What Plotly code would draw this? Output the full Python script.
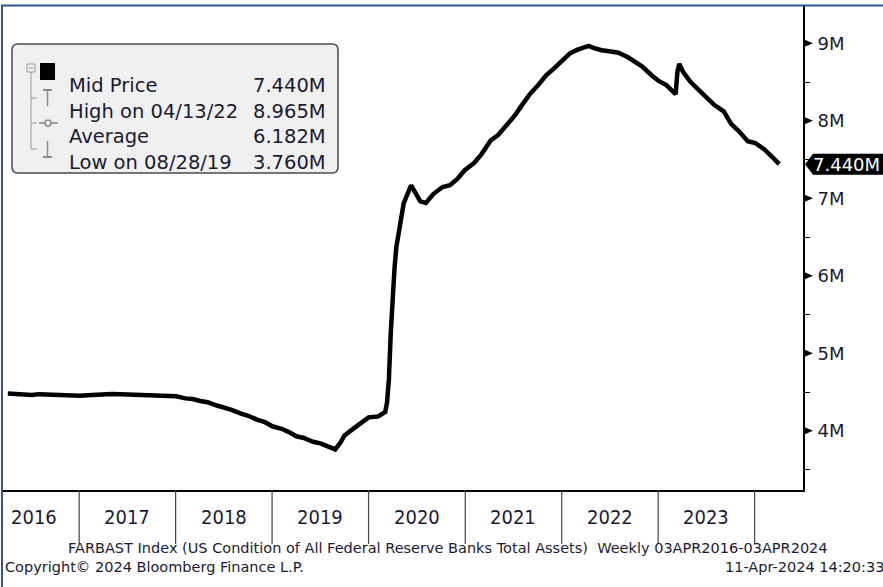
import plotly.graph_objects as go

# Fed total assets (FARBAST), in millions of millions ("M")
dates = [
    "2016-04-06", "2016-05-04", "2016-06-01", "2016-07-06", "2016-08-03", "2016-09-07",
    "2016-10-05", "2016-11-02", "2016-12-07", "2017-01-04", "2017-02-01", "2017-03-01",
    "2017-04-05", "2017-05-03", "2017-06-07", "2017-07-05", "2017-08-02", "2017-09-06",
    "2017-10-04", "2017-11-01", "2017-12-06", "2018-01-03", "2018-02-07", "2018-03-07",
    "2018-04-04", "2018-05-02", "2018-06-06", "2018-07-04", "2018-08-01", "2018-09-05",
    "2018-10-03", "2018-11-07", "2018-12-05", "2019-01-02", "2019-02-06", "2019-03-06",
    "2019-04-03", "2019-05-01", "2019-06-05", "2019-07-03", "2019-08-07", "2019-08-28",
    "2019-09-18", "2019-10-02", "2019-11-06", "2019-12-04", "2020-01-01", "2020-02-05",
    "2020-03-04", "2020-03-11", "2020-03-18", "2020-03-25", "2020-04-01", "2020-04-08",
    "2020-04-15", "2020-04-29", "2020-05-13", "2020-06-10", "2020-06-24", "2020-07-15",
    "2020-08-05", "2020-09-02", "2020-10-07", "2020-11-04", "2020-12-02", "2020-12-30",
    "2021-02-03", "2021-03-03", "2021-04-07", "2021-05-05", "2021-06-02", "2021-07-07",
    "2021-08-04", "2021-09-01", "2021-10-06", "2021-11-03", "2021-12-01", "2022-01-05",
    "2022-02-02", "2022-03-02", "2022-04-13", "2022-05-04", "2022-06-01", "2022-07-06",
    "2022-08-03", "2022-09-07", "2022-10-05", "2022-11-02", "2022-12-07", "2023-01-04",
    "2023-02-01", "2023-03-08", "2023-03-15", "2023-03-22", "2023-04-05", "2023-05-03",
    "2023-06-07", "2023-07-05", "2023-08-02", "2023-09-06", "2023-10-04", "2023-11-01",
    "2023-12-06", "2024-01-03", "2024-02-07", "2024-03-06", "2024-04-03",
]
values = [
    4.481, 4.476, 4.465, 4.463, 4.473, 4.467,
    4.456, 4.454, 4.449, 4.452, 4.459, 4.468,
    4.474, 4.474, 4.470, 4.466, 4.464, 4.454,
    4.461, 4.460, 4.441, 4.446, 4.418, 4.409,
    4.385, 4.369, 4.326, 4.300, 4.270, 4.221,
    4.194, 4.141, 4.111, 4.058, 4.026, 3.983,
    3.929, 3.907, 3.859, 3.838, 3.783, 3.760,
    3.855, 3.940, 4.031, 4.096, 4.173, 4.183,
    4.242, 4.362, 4.666, 5.255, 5.814, 6.083,
    6.367, 6.656, 6.934, 7.168, 7.092, 6.960,
    6.941, 7.055, 7.146, 7.168, 7.250, 7.362,
    7.455, 7.567, 7.746, 7.817, 7.925, 8.065,
    8.205, 8.338, 8.469, 8.586, 8.669, 8.790,
    8.873, 8.917, 8.965, 8.937, 8.911, 8.895,
    8.878, 8.823, 8.756, 8.699, 8.588, 8.511,
    8.460, 8.342, 8.639, 8.734, 8.632, 8.503,
    8.385, 8.298, 8.203, 8.122, 7.960, 7.870,
    7.737, 7.713, 7.631, 7.539, 7.440,
]

year_labels = ["2016", "2017", "2018", "2019", "2020", "2021", "2022", "2023"]
year_label_dates = ["2016-07-15", "2017-07-02", "2018-07-02", "2019-07-02",
                    "2020-07-02", "2021-07-02", "2022-07-02", "2023-07-02"]
year_breaks = ["2017-01-01", "2018-01-01", "2019-01-01", "2020-01-01",
               "2021-01-01", "2022-01-01", "2023-01-01", "2024-01-01"]

y_ticks = [4, 5, 6, 7, 8, 9]
y_ticktext = ["4M", "5M", "6M", "7M", "8M", "9M"]

legend_names = ["Mid Price", "High on 04/13/22", "Average", "Low on 08/28/19"]
legend_values = ["7.440M", "8.965M", "6.182M", "3.760M"]
last_label = "7.440M"

W, H = 883, 587
L, R, T, B = 2, 803, 6, 490


def px(x):
    return (x - L) / (R - L)


def py(y):
    return (B - y) / (B - T)


TXT = "#1b1a33"
NARROW = "DejaVu Sans Condensed, Liberation Sans Narrow, sans-serif"
WIDE = "DejaVu Sans, Verdana, sans-serif"

fig = go.Figure()
fig.add_trace(
    go.Scatter(
        x=dates, y=values, mode="lines",
        line=dict(color="black", width=4.5),
        hoverinfo="skip", showlegend=False,
    )
)

shapes = []
annotations = []

# year separators under the axis
for d in year_breaks:
    shapes.append(dict(type="line", xref="x", yref="paper", x0=d, x1=d,
                       y0=0, y1=py(544), line=dict(color="#444444", width=1.2)))
for d, t in zip(year_label_dates, year_labels):
    annotations.append(dict(x=d, y=py(531), xref="x", yref="paper", text=t,
                            showarrow=False, font=dict(family=NARROW, size=20, color=TXT)))

# triangle ticks on the right axis
for v in y_ticks:
    shapes.append(dict(type="path", xref="paper", yref="y",
                       path=f"M 1,{v - 0.055} L 1,{v + 0.055} L {px(813)},{v} Z",
                       fillcolor="black", line=dict(width=0)))

# last value label
lv = values[-1]
shapes.append(dict(type="path", xref="paper", yref="y",
                   path=(f"M {px(805)},{lv} L {px(813)},{lv + 0.135} L {px(890)},{lv + 0.135} "
                         f"L {px(890)},{lv - 0.135} L {px(813)},{lv - 0.135} Z"),
                   fillcolor="black", line=dict(width=0)))
annotations.append(dict(x=px(811), y=lv, xref="paper", yref="y", text=last_label,
                        xanchor="left", showarrow=False,
                        font=dict(family=WIDE, size=18, color="white")))

# legend box with rounded corners
x0, x1, y0, y1, r = 12, 338, 44, 173, 6
box = (f"M {px(x0 + r)},{py(y0)} L {px(x1 - r)},{py(y0)} Q {px(x1)},{py(y0)} {px(x1)},{py(y0 + r)} "
       f"L {px(x1)},{py(y1 - r)} Q {px(x1)},{py(y1)} {px(x1 - r)},{py(y1)} "
       f"L {px(x0 + r)},{py(y1)} Q {px(x0)},{py(y1)} {px(x0)},{py(y1 - r)} "
       f"L {px(x0)},{py(y0 + r)} Q {px(x0)},{py(y0)} {px(x0 + r)},{py(y0)} Z")
shapes.append(dict(type="path", xref="paper", yref="paper", path=box,
                   fillcolor="#f0f0f0", line=dict(color="#4a4a4a", width=1.5)))
rows = [72, 98, 123, 149]
# tree lines
shapes.append(dict(type="rect", xref="paper", yref="paper",
                   x0=px(27), x1=px(35), y0=py(64), y1=py(72),
                   fillcolor="#f0f0f0", line=dict(color="#9a9a9a", width=1)))
shapes.append(dict(type="line", xref="paper", yref="paper",
                   x0=px(29), x1=px(33), y0=py(68), y1=py(68),
                   line=dict(color="#9a9a9a", width=1)))
shapes.append(dict(type="line", xref="paper", yref="paper",
                   x0=px(31), x1=px(31), y0=py(72), y1=py(rows[3]),
                   line=dict(color="#9a9a9a", width=1)))
for ry in rows[1:]:
    shapes.append(dict(type="line", xref="paper", yref="paper",
                       x0=px(31), x1=px(37), y0=py(ry), y1=py(ry),
                       line=dict(color="#9a9a9a", width=1)))
# black square for mid price
shapes.append(dict(type="rect", xref="paper", yref="paper",
                   x0=px(40), x1=px(55), y0=py(63), y1=py(80),
                   fillcolor="black", line=dict(width=0)))
# high marker (T)
shapes.append(dict(type="line", xref="paper", yref="paper", x0=px(43), x1=px(52),
                   y0=py(90), y1=py(90), line=dict(color="#8a8a8a", width=2)))
shapes.append(dict(type="line", xref="paper", yref="paper", x0=px(47.5), x1=px(47.5),
                   y0=py(90), y1=py(106), line=dict(color="#8a8a8a", width=1.5)))
# average marker
shapes.append(dict(type="line", xref="paper", yref="paper", x0=px(39), x1=px(58),
                   y0=py(123), y1=py(123), line=dict(color="#8a8a8a", width=1.5)))
shapes.append(dict(type="circle", xref="paper", yref="paper", x0=px(45), x1=px(51),
                   y0=py(120), y1=py(126), fillcolor="#f0f0f0",
                   line=dict(color="#8a8a8a", width=1.5)))
# low marker (inverted T)
shapes.append(dict(type="line", xref="paper", yref="paper", x0=px(47.5), x1=px(47.5),
                   y0=py(141), y1=py(157), line=dict(color="#8a8a8a", width=1.5)))
shapes.append(dict(type="line", xref="paper", yref="paper", x0=px(43), x1=px(52),
                   y0=py(157), y1=py(157), line=dict(color="#8a8a8a", width=2)))

for ry, name, val in zip(rows, legend_names, legend_values):
    annotations.append(dict(x=px(67), y=py(ry), xref="paper", yref="paper", text=name,
                            xanchor="left", showarrow=False,
                            font=dict(family=WIDE, size=19.5, color=TXT)))
    annotations.append(dict(x=px(328), y=py(ry), xref="paper", yref="paper", text=val,
                            xanchor="right", showarrow=False,
                            font=dict(family=WIDE, size=19.5, color=TXT)))

# frame lines (blue window border)
shapes.append(dict(type="line", xref="paper", yref="paper", x0=px(2), x1=px(2),
                   y0=py(6), y1=py(600), line=dict(color="#2f5597", width=2)))
shapes.append(dict(type="line", xref="paper", yref="paper", x0=px(1), x1=px(900),
                   y0=py(5.5), y1=py(5.5), line=dict(color="#2f5597", width=2)))

# footer
annotations.append(dict(x=px(448), y=py(558), xref="paper", yref="paper",
                        text="FARBAST Index (US Condition of All Federal Reserve Banks Total Assets)  Weekly 03APR2016-03APR2024",
                        showarrow=False, font=dict(family=WIDE, size=14.5, color=TXT)))
annotations.append(dict(x=px(3), y=py(577), xref="paper", yref="paper",
                        text="Copyright© 2024 Bloomberg Finance L.P.", xanchor="left",
                        showarrow=False, font=dict(family=WIDE, size=14.5, color=TXT)))
annotations.append(dict(x=px(886), y=py(577), xref="paper", yref="paper",
                        text="11-Apr-2024 14:20:33", xanchor="right",
                        showarrow=False, font=dict(family=WIDE, size=14.5, color=TXT)))

fig.update_layout(
    width=W, height=H,
    margin=dict(l=L, r=W - R, t=T, b=H - B),
    paper_bgcolor="white", plot_bgcolor="white",
    showlegend=False,
    xaxis=dict(
        type="date", range=["2016-03-15", "2024-07-02"],
        showgrid=False, zeroline=False, showticklabels=False, ticks="",
        showline=True, linecolor="black", linewidth=1.5, mirror=False,
    ),
    yaxis=dict(
        side="right", range=[3.236, 9.481],
        tickvals=y_ticks, ticktext=y_ticktext, ticks="",
        ticklabelstandoff=9,
        minor=dict(dtick=0.5, tick0=0, ticks="outside", ticklen=5,
                   tickcolor="black", tickwidth=1),
        showgrid=False, zeroline=False,
        showline=True, linecolor="black", linewidth=2,
        tickfont=dict(family=WIDE, size=18, color=TXT),
    ),
    shapes=shapes,
    annotations=annotations,
)

fig.write_html("out.html", config={"displayModeBar": False},
               post_script="document.body.style.margin='0';")
